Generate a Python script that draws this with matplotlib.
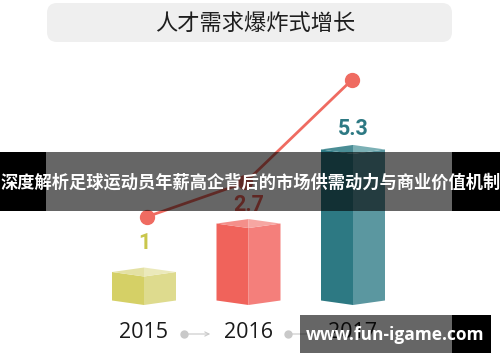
import matplotlib
matplotlib.use("Agg")
import matplotlib.pyplot as plt
from matplotlib.patches import Polygon, Rectangle, FancyBboxPatch

# ---- data ----
years = ["2015", "2016", "2017"]
values = [1, 2.7, 5.3]
value_labels = ["1", "2.7", "5.3"]
trend = [3.1, 4.3, 7.9]
title = "人才需求爆炸式增长"
banner = "深度解析足球运动员年薪高企背后的市场供需动力与商业价值机制"
watermark = "www.fun-igame.com"

left_cols = ["#d5d066", "#f0635b", "#2d7983"]
right_cols = ["#dedb8e", "#f47f7b", "#5b97a0"]
topl_cols = ["#e4e1a4", "#f48f8a", "#4a8d95"]
topr_cols = ["#ebe9bb", "#f6a6a2", "#7bb0b5"]
label_cols = ["#c9c64c", "#ee6259", "#2d7983"]

W, H = 500, 362
fig = plt.figure(figsize=(W / 100, H / 100), dpi=100)
fig.patch.set_facecolor("white")
ax = fig.add_axes([0, 0, 1, 1])
ax.set_axis_off()

# mapping: category i -> px 144 + 104.5 i ; value 0 at py 305, 28 px per unit
x0, dx = 144.0, 104.5
y0, dy = 305.0, 28.5
ax.set_xlim(-x0 / dx, (W - x0) / dx)
ax.set_ylim((y0 - H) / dy, y0 / dy)

def fx(px):
    return px / W

def fy(py):
    return 1 - py / H

CJK = ["Noto Sans CJK SC", "DejaVu Sans"]

# ---- title box ----
tb = FancyBboxPatch((fx(47), fy(42)), 405 / W, (42 - 3) / H,
                    boxstyle="round,pad=0,rounding_size=0.02",
                    transform=fig.transFigure, facecolor="#efefef",
                    edgecolor="none", mutation_aspect=W / H, zorder=1)
fig.patches.append(tb)
fig.text(fx(255), fy(23), title, ha="center", va="center", fontsize=16,
         color="#1e1e1e", family=CJK, zorder=2)

# ---- 3D bars ----
w = 32 / dx
d = 4.5 / dy
label_gap = [0.85, 0.5, 0.55]
for i, v in enumerate(values):
    c = i
    ax.add_patch(Polygon([(c - w, d), (c, 0), (c, v), (c - w, v + d)],
                         closed=True, facecolor=left_cols[i], edgecolor="none", zorder=3))
    ax.add_patch(Polygon([(c, 0), (c + w, d), (c + w, v + d), (c, v)],
                         closed=True, facecolor=right_cols[i], edgecolor="none", zorder=3))
    ax.add_patch(Polygon([(c - w, v + d), (c, v), (c, v + 2 * d)],
                         closed=True, facecolor=topl_cols[i], edgecolor="none", zorder=3))
    ax.add_patch(Polygon([(c, v), (c + w, v + d), (c, v + 2 * d)],
                         closed=True, facecolor=topr_cols[i], edgecolor="none", zorder=3))
    ax.text(c, v + 2 * d + label_gap[i], value_labels[i], ha="center", va="center",
            fontsize=15.5, fontweight="bold", color=label_cols[i],
            family=["Roboto", "DejaVu Sans"], zorder=4)

# ---- trend line ----
xs = [0.03, 0.97, 1.99]
ax.plot(xs, trend, color="#ef6b61", lw=2, zorder=5)
ax.plot(xs, trend, "o", color="#ef6b61", ms=10, zorder=6)

# ---- year labels & arrows ----
for i, yr in enumerate(years):
    ax.text(i, (y0 - 333) / dy, yr, ha="center", va="center", fontsize=15.5,
            color="#1a1a1a", family=["Open Sans", "DejaVu Sans"], zorder=4)
for i in range(2):
    sx = i + 0.38
    ex = i + 0.66
    yy = (y0 - 334) / dy
    ax.plot([sx], [yy], "o", color="#c9c9c9", ms=5, zorder=4)
    ax.annotate("", xy=(ex, yy), xytext=(sx, yy),
                arrowprops=dict(arrowstyle="->,head_length=0.3,head_width=0.15",
                                color="#c9c9c9", lw=0.8), zorder=4)

# ---- banner overlay ----
def overlay(x1, x2, y1, y2, alpha):
    fig.patches.append(Rectangle((fx(x1), fy(y2)), (x2 - x1) / W, (y2 - y1) / H,
                                 transform=fig.transFigure, facecolor="black",
                                 alpha=alpha, edgecolor="none", zorder=10))

overlay(0, 46, 152, 211, 1.0)
overlay(46, 452, 152, 211, 0.6)
overlay(452, 500, 152, 211, 1.0)
fig.text(fx(250.5), fy(183), banner, ha="center", va="center", fontsize=12.4,
         fontweight="bold", color="white", family=CJK, zorder=11)

# ---- watermark ----
overlay(300, 452, 315, 353, 0.6)
overlay(452, 491, 315, 353, 1.0)
fig.text(fx(395), fy(335), watermark, ha="center", va="center", fontsize=12.5,
         fontweight="bold", color="white", family=["Open Sans", "DejaVu Sans"], zorder=11)

fig.savefig("out.png", dpi=100, facecolor="white")
